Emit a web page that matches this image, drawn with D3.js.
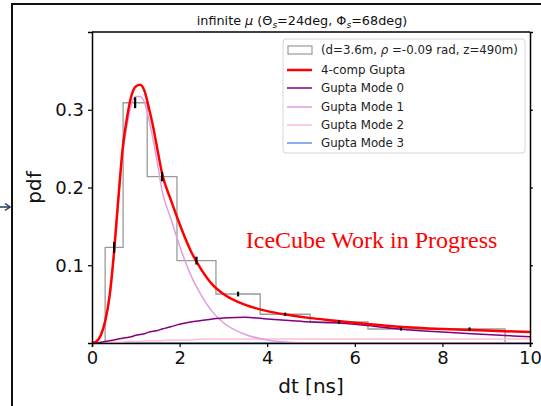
<!DOCTYPE html>
<html>
<head>
<meta charset="utf-8">
<script src="https://cdn.jsdelivr.net/npm/d3@7"></script>
<style>
  body { margin: 0; background: #fff; }
  svg { display: block; font-family: "DejaVu Sans", sans-serif; }
</style>
</head>
<body>
<div id="chart-area"></div>
<script>
// histogram bins (dt edges in ns) and heights
let binEdges = [0.30, 0.71, 1.26, 1.94, 2.83, 3.84, 4.98, 6.30, 7.81, 9.43];
let binHeights = [0.123, 0.309, 0.214, 0.106, 0.063, 0.037, 0.027, 0.018, 0.018];
let binErrors = [0.006, 0.006, 0.005, 0.004, 0.002, 0.001, 0.001, 0.001, 0.001];

// curve samples
let dt = [0, 0.1, 0.2, 0.3, 0.4, 0.5, 0.6, 0.7, 0.8, 0.9, 1.0, 1.1, 1.2, 1.3, 1.4, 1.5, 1.6,
  1.8, 2.0, 2.25, 2.5, 2.75, 3.0, 3.5, 4.0, 4.5, 5.0, 5.5, 6.0, 7.0, 8.0, 9.0, 10.0];
let gupta4 = [0, 0.002, 0.01, 0.028, 0.06, 0.115, 0.185, 0.25, 0.29, 0.318, 0.33, 0.332, 0.324,
  0.302, 0.277, 0.247, 0.218, 0.184, 0.153, 0.119, 0.094, 0.075, 0.063, 0.049, 0.041, 0.036,
  0.032, 0.029, 0.026, 0.021, 0.018, 0.016, 0.014];
let mode0 = [0, 0, 0.001, 0.002, 0.003, 0.004, 0.005, 0.006, 0.007, 0.008, 0.010, 0.011, 0.012,
  0.014, 0.015, 0.016, 0.018, 0.021, 0.024, 0.027, 0.029, 0.031, 0.032, 0.033, 0.031, 0.029,
  0.027, 0.026, 0.024, 0.018, 0.014, 0.011, 0.008];
let mode1 = [0, 0.002, 0.009, 0.026, 0.057, 0.11, 0.18, 0.243, 0.28, 0.307, 0.317, 0.317, 0.309,
  0.287, 0.26, 0.229, 0.196, 0.16, 0.125, 0.088, 0.061, 0.04, 0.026, 0.011, 0.004, 0.001,
  0, 0, 0, 0, 0, 0, 0];
let mode2 = [0, 0, 0, 0, 0.001, 0.001, 0.001, 0.001, 0.002, 0.002, 0.002, 0.002, 0.003,
  0.003, 0.003, 0.003, 0.003, 0.004, 0.004, 0.004, 0.005, 0.005, 0.005, 0.005, 0.005, 0.005,
  0.005, 0.005, 0.005, 0.005, 0.005, 0.005, 0.005];
let mode3 = [0, 0, 0, 0, 0, 0, 0, 0, 0, 0, 0, 0, 0, 0, 0, 0, 0, 0, 0, 0, 0, 0, 0, 0, 0, 0,
  0, 0, 0, 0, 0, 0, 0];

let xTicks = [0, 2, 4, 6, 8, 10];
let yTicks = [0.1, 0.2, 0.3];

let legendLabels = ["(d=3.6m, \u03C1 =-0.09 rad, z=490m)", "4-comp Gupta", "Gupta Mode 0",
  "Gupta Mode 1", "Gupta Mode 2", "Gupta Mode 3"];

let W = 541, H = 406;
let margin = { top: 32, right: 11, bottom: 63, left: 92 };
let width = W - margin.left - margin.right,
  height = H - margin.top - margin.bottom;

let svg = d3.select("#chart-area").append("svg")
  .attr("width", W).attr("height", H);

// slide frame and stray arrow
svg.append("path").attr("d", "M12,406 V4 H541")
  .attr("fill", "none").attr("stroke", "#111").attr("stroke-width", 2);
svg.append("line").attr("x1", 0).attr("x2", 9).attr("y1", 207).attr("y2", 207)
  .attr("stroke", "#1f3a5a").attr("stroke-width", 1.5);
svg.append("path").attr("d", "M5,203.5 L10,207 L5,210.5")
  .attr("fill", "none").attr("stroke", "#1f3a5a").attr("stroke-width", 1.5);

let g = svg.append("g")
  .attr("transform", "translate(" + margin.left + "," + margin.top + ")");

let x = d3.scaleLinear().domain([0, 10]).range([0, width]);
let y = d3.scaleLinear().domain([0, 0.4]).range([height, 0]);

g.append("clipPath").attr("id", "clip")
  .append("rect").attr("width", width).attr("height", height);

let plot = g.append("g").attr("clip-path", "url(#clip)");

// histogram as a step outline
let bins = binHeights.map(function(h, i) {
  return { x0: binEdges[i], x1: binEdges[i + 1], h: h, e: binErrors[i] };
});
let stepPts = [[binEdges[0], 0]];
bins.forEach(function(d) {
  stepPts.push([d.x0, d.h]);
  stepPts.push([d.x1, d.h]);
});
stepPts.push([binEdges[binEdges.length - 1], 0]);
plot.append("path")
  .attr("d", d3.line().x(function(d) { return x(d[0]); }).y(function(d) { return y(d[1]); })(stepPts))
  .attr("fill", "none").attr("stroke", "#9a9a9a").attr("stroke-width", 1.3);

// curves
let curves = [
  { v: mode3, c: "cornflowerblue", w: 1.5 },
  { v: mode2, c: "pink", w: 1.5 },
  { v: mode1, c: "plum", w: 1.5 },
  { v: mode0, c: "purple", w: 1.5 },
  { v: gupta4, c: "red", w: 2.5 }
];
let line = d3.line()
  .x(function(d) { return x(d[0]); })
  .y(function(d) { return y(d[1]); })
  .curve(d3.curveMonotoneX);
curves.forEach(function(cv) {
  plot.append("path")
    .attr("d", line(dt.map(function(t, i) { return [t, cv.v[i]]; })))
    .attr("fill", "none").attr("stroke", cv.c).attr("stroke-width", cv.w);
});

// error bars
plot.selectAll(".err").data(bins).enter().append("line")
  .attr("x1", function(d) { return x((d.x0 + d.x1) / 2); })
  .attr("x2", function(d) { return x((d.x0 + d.x1) / 2); })
  .attr("y1", function(d) { return y(d.h - d.e) + 0.8; })
  .attr("y2", function(d) { return y(d.h + d.e) - 0.8; })
  .attr("stroke", "#000").attr("stroke-width", 2.2);

// watermark
g.append("text").attr("x", x(3.51)).attr("y", 216)
  .attr("fill", "red").style("font-family", "'Liberation Serif', 'Times New Roman', serif")
  .style("font-size", "24px").text("IceCube Work in Progress");

// axes
let xAxis = g.append("g").attr("transform", "translate(0," + height + ")")
  .call(d3.axisBottom(x).tickValues(xTicks).tickSize(4).tickPadding(4));
let yAxis = g.append("g")
  .call(d3.axisLeft(y).tickValues(yTicks).tickFormat(d3.format(".1f")).tickSize(4).tickPadding(4));
let yAxisR = g.append("g").attr("transform", "translate(" + width + ",0)")
  .call(d3.axisRight(y).tickValues(yTicks).tickSize(3).tickFormat(""));
g.append("line").attr("x1", 0).attr("x2", width).attr("y1", 0).attr("y2", 0)
  .attr("stroke", "#000").attr("stroke-width", 1.5);
[xAxis, yAxis, yAxisR].forEach(function(a) {
  a.select(".domain").attr("stroke-width", 1.5);
  a.selectAll(".tick line").attr("stroke-width", 1.2);
  a.selectAll("text").style("font-family", "'DejaVu Sans', sans-serif")
    .style("font-size", "18px").attr("fill", "#111");
});

// labels
svg.append("text").attr("x", margin.left + width / 2).attr("y", 393)
  .attr("text-anchor", "middle").style("font-size", "20px").attr("fill", "#111")
  .text("dt [ns]");
svg.append("text").attr("transform", "translate(41," + (margin.top + height / 2) + ") rotate(-90)")
  .attr("text-anchor", "middle").style("font-size", "20px").attr("fill", "#111")
  .text("pdf");

// title
let title = svg.append("text").attr("x", 302).attr("y", 25)
  .attr("text-anchor", "middle").style("font-size", "12.8px").attr("fill", "#111");
title.append("tspan").text("infinite ");
title.append("tspan").style("font-style", "italic").text("\u03BC");
title.append("tspan").text(" (\u0398");
title.append("tspan").style("font-style", "italic").style("font-size", "9px").attr("dy", 2.5).text("s");
title.append("tspan").attr("dy", -2.5).text("=24deg, \u03A6");
title.append("tspan").style("font-style", "italic").style("font-size", "9px").attr("dy", 2.5).text("s");
title.append("tspan").attr("dy", -2.5).text("=68deg)");

// legend
let lg = svg.append("g");
lg.append("rect").attr("x", 283).attr("y", 39).attr("width", 242).attr("height", 114)
  .attr("rx", 3).attr("fill", "#fff").attr("fill-opacity", 0.85)
  .attr("stroke", "#d6d6d6");
let legendColors = [null, "red", "purple", "plum", "pink", "cornflowerblue"];
let legendY = [50, 70, 88, 107, 125, 143];
legendLabels.forEach(function(lbl, i) {
  if (i === 0) {
    lg.append("rect").attr("x", 288).attr("y", legendY[i] - 4).attr("width", 24).attr("height", 8)
      .attr("fill", "none").attr("stroke", "#9a9a9a").attr("stroke-width", 1.2);
  } else {
    lg.append("line").attr("x1", 287).attr("x2", 312).attr("y1", legendY[i]).attr("y2", legendY[i])
      .attr("stroke", legendColors[i]).attr("stroke-width", i === 1 ? 2.5 : 1.5);
  }
  let t = lg.append("text").attr("x", 321).attr("y", legendY[i] + 4)
    .style("font-size", "11.8px").attr("fill", "#222");
  if (i === 0) {
    t.append("tspan").text("(d=3.6m, ");
    t.append("tspan").style("font-style", "italic").text("\u03C1");
    t.append("tspan").text(" =-0.09 rad, z=490m)");
  } else {
    t.text(lbl);
  }
});
</script>
</body>
</html>
